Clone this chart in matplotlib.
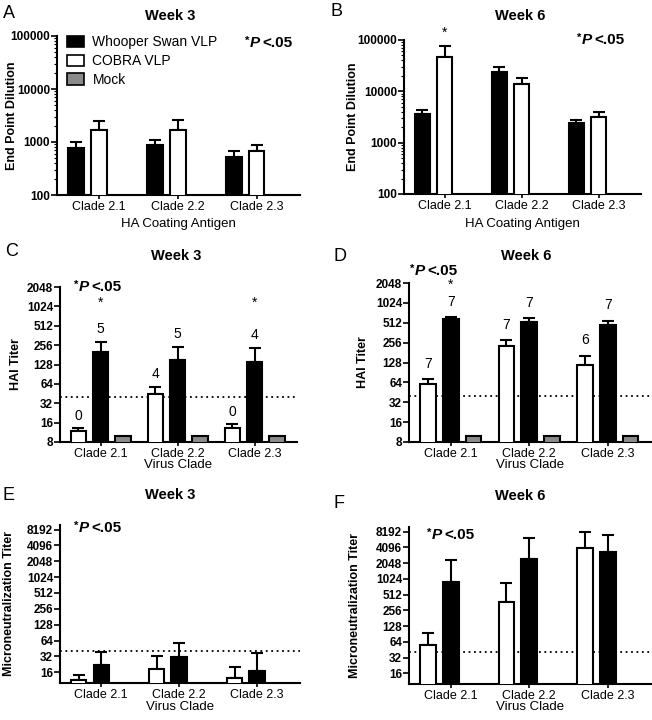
import numpy as np
import matplotlib.pyplot as plt
from matplotlib.patches import Patch
from matplotlib.ticker import FixedLocator, NullFormatter

plt.rcParams['font.family'] = ['Liberation Sans', 'DejaVu Sans']

W, H = 652, 720

clades = ['Clade 2.1', 'Clade 2.2', 'Clade 2.3']

# ELISA end point dilution (A, B): black = Whooper Swan, white = COBRA
elisa_w3_swan = [780, 880, 515]
elisa_w3_swan_err = [980, 1090, 690]
elisa_w3_cobra = [1650, 1700, 690]
elisa_w3_cobra_err = [2450, 2550, 860]
elisa_w6_swan = [3650, 24000, 2420]
elisa_w6_swan_err = [4350, 30000, 2800]
elisa_w6_cobra = [47000, 13800, 3150]
elisa_w6_cobra_err = [75000, 18500, 4000]

# HAI titer (C, D): white, black, mock
hai_w3_white = [11.7, 45, 13]
hai_w3_white_err = [13, 58, 15]
hai_w3_black = [200, 150, 140]
hai_w3_black_err = [288, 240, 232]
hai_w6_white = [61, 230, 119]
hai_w6_white_err = [72, 278, 163]
hai_w6_black = [592, 520, 478]
hai_w6_black_err = [626, 605, 550]
hai_mock = [10, 10, 10]
hai_w3_n_white = ['0', '4', '0']
hai_w3_n_black = ['5', '5', '4']
hai_w6_n_white = ['7', '7', '6']
hai_w6_n_black = ['7', '7', '7']

# Microneutralization titer (E, F)
mn_w3_white = [11.4, 18.5, 12.3]
mn_w3_white_err = [14.2, 33, 20]
mn_w3_black = [22.4, 30.7, 16.7]
mn_w3_black_err = [39.4, 56.5, 37]
mn_w6_white = [55, 366, 3930]
mn_w6_white_err = [94, 838, 8140]
mn_w6_black = [904, 2430, 3260]
mn_w6_black_err = [2330, 6270, 6940]

cutoff = 40
log10_ticks = [100, 1000, 10000, 100000]
hai_ticks = [8, 16, 32, 64, 128, 256, 512, 1024, 2048]
mn_ticks = [16, 32, 64, 128, 256, 512, 1024, 2048, 4096, 8192]

fig = plt.figure(figsize=(W / 100, H / 100), dpi=100)


def make_ax(l, r, t, b):
    return fig.add_axes([l / W, 1 - b / H, (r - l) / W, (b - t) / H])


def style(ax, l, r, ylabel, xlabel, ylabel_x, xlabel_y, b, t):
    for s in ['top', 'right']:
        ax.spines[s].set_visible(False)
    for s in ['left', 'bottom']:
        ax.spines[s].set_linewidth(1.5)
    ax.set_xlim(-0.53, 2.55)
    ax.set_xticks(range(3))
    ax.set_xticklabels(clades, fontsize=9)
    ax.tick_params(axis='x', length=3, width=1.2, pad=1.5)
    ax.tick_params(axis='y', which='major', length=4, width=1.2, pad=1)
    for lab in ax.get_yticklabels():
        lab.set_fontweight('bold')
        lab.set_fontsize(8.5)
    ax.set_ylabel(ylabel, fontsize=9, fontweight='bold')
    ax.yaxis.set_label_coords((ylabel_x - l) / (r - l), 0.5)
    ax.set_xlabel(xlabel, fontsize=9.5)
    ax.xaxis.set_label_coords(0.5, -(xlabel_y - b) / (b - t))


def bars(ax, series):
    offsets = [-0.29, 0.0, 0.29]
    xs = []
    for off, (vals, err, col) in zip(offsets, series):
        x = np.arange(3) + off
        xs.append(x)
        if vals is None:
            continue
        ax.bar(x, vals, width=0.2, color=col, edgecolor='black', linewidth=1.5, zorder=3)
        if err is not None:
            up = np.array(err) - np.array(vals)
            ax.errorbar(x, vals, yerr=[np.zeros(3), up], fmt='none', ecolor='black',
                        elinewidth=1.5, capsize=4, capthick=1.5, zorder=2)
    return xs


def log_axis(ax, base, ticks, ylim, minor=False):
    ax.set_yscale('log', base=base)
    ax.set_ylim(*ylim)
    ax.set_yticks(ticks)
    ax.set_yticklabels([str(t) for t in ticks])
    if not minor:
        ax.yaxis.set_minor_locator(FixedLocator([]))
    else:
        ax.tick_params(axis='y', which='minor', length=2, width=0.8)
        ax.yaxis.set_minor_formatter(NullFormatter())


def pval(x, y):
    # "*P<.05" built from three pieces: small star, bold italic P, bold "<.05"
    fig.text(x / W, 1 - y / H, '*', fontsize=8, fontweight='bold', va='top', ha='left')
    fig.text((x + 5) / W, 1 - (y + 7) / H, 'P', fontsize=11, fontweight='bold',
             fontstyle='italic', va='center', ha='left')
    fig.text((x + 17) / W, 1 - (y + 7) / H, '<.05', fontsize=11, fontweight='bold',
             va='center', ha='left')


def panel_text(x, y, letter, title_x, title_y, title):
    fig.text(x / W, 1 - y / H, letter, fontsize=13, va='center', ha='left')
    fig.text(title_x / W, 1 - title_y / H, title, fontsize=10.5, fontweight='bold',
             va='center', ha='center')


def counts(ax, x, tops, labels, off):
    for xi, ti, lab in zip(x, tops, labels):
        ax.annotate(lab, xy=(xi, ti), xytext=(0, off), textcoords='offset points',
                    ha='center', va='bottom', fontsize=10)


# ---- A ----
axA = make_ax(57, 300, 36, 195)
bars(axA, [(elisa_w3_swan, elisa_w3_swan_err, 'black'),
           (elisa_w3_cobra, elisa_w3_cobra_err, 'white'),
           (None, None, '#8a8a8a')])
log_axis(axA, 10, log10_ticks, (100, 100000), minor=True)
style(axA, 57, 300, 'End Point Dilution', 'HA Coating Antigen', 18, 218, 195, 36)
handles = [Patch(facecolor='black', edgecolor='black', linewidth=1.2),
           Patch(facecolor='white', edgecolor='black', linewidth=1.2),
           Patch(facecolor='#8a8a8a', edgecolor='black', linewidth=1.2)]
axA.legend(handles, ['Whooper Swan VLP', 'COBRA VLP', 'Mock'], loc='upper left',
           bbox_to_anchor=(0.02, 1.04), frameon=False, fontsize=10, handlelength=1.2,
           handleheight=0.9, handletextpad=0.6, labelspacing=0.35, borderaxespad=0)
panel_text(3, 13, 'A', 170, 16, 'Week 3')
pval(245, 36)

# ---- B ----
axB = make_ax(404, 641, 40, 194)
xsB = bars(axB, [(elisa_w6_swan, elisa_w6_swan_err, 'black'),
                 (elisa_w6_cobra, elisa_w6_cobra_err, 'white'),
                 (None, None, '#8a8a8a')])
log_axis(axB, 10, log10_ticks, (100, 100000), minor=True)
style(axB, 404, 641, 'End Point Dilution', 'HA Coating Antigen', 359, 218, 194, 40)
axB.annotate('*', xy=(xsB[1][0], elisa_w6_cobra_err[0]), xytext=(0, 5),
             textcoords='offset points', ha='center', va='bottom', fontsize=10,
             annotation_clip=False)
panel_text(331, 12, 'B', 520, 16, 'Week 6')
pval(577, 33)

# ---- C ----
axC = make_ax(60, 297, 287, 442)
axC.axhline(cutoff, color='black', linestyle=(0, (1, 2)), linewidth=1.3, zorder=1)
xsC = bars(axC, [(hai_w3_white, hai_w3_white_err, 'white'),
                 (hai_w3_black, hai_w3_black_err, 'black'),
                 (hai_mock, None, '#8a8a8a')])
log_axis(axC, 2, hai_ticks, (8, 2048))
style(axC, 60, 297, 'HAI Titer', 'Virus Clade', 22, 459, 442, 287)
counts(axC, xsC[0], hai_w3_white_err, hai_w3_n_white, 4)
counts(axC, xsC[1], hai_w3_black_err, hai_w3_n_black, 4)
for i in [0, 2]:
    axC.text(xsC[1][i], 1150, '*', ha='center', va='center', fontsize=10)
panel_text(5, 252, 'C', 176, 256, 'Week 3')
pval(74, 280)

# ---- D ----
axD = make_ax(409, 651, 283, 442)
axD.axhline(cutoff, color='black', linestyle=(0, (1, 2)), linewidth=1.3, zorder=1)
xsD = bars(axD, [(hai_w6_white, hai_w6_white_err, 'white'),
                 (hai_w6_black, hai_w6_black_err, 'black'),
                 (hai_mock, None, '#8a8a8a')])
log_axis(axD, 2, hai_ticks, (8, 2048))
style(axD, 409, 651, 'HAI Titer', 'Virus Clade', 369, 459, 442, 283)
counts(axD, xsD[0], hai_w6_white_err, hai_w6_n_white, 6)
counts(axD, xsD[1], hai_w6_black_err, hai_w6_n_black, 6)
axD.text(xsD[1][0], 1950, '*', ha='center', va='center', fontsize=10, clip_on=False)
panel_text(333, 256, 'D', 526, 256, 'Week 6')
pval(410, 264)

# ---- E ----
axE = make_ax(60, 300, 525, 683)
axE.axhline(cutoff, color='black', linestyle=(0, (1, 2)), linewidth=1.3, zorder=1)
bars(axE, [(mn_w3_white, mn_w3_white_err, 'white'),
           (mn_w3_black, mn_w3_black_err, 'black'),
           (None, None, '#8a8a8a')])
log_axis(axE, 2, mn_ticks, (10, 10000))
style(axE, 60, 300, 'Microneutralization Titer', 'Virus Clade', 15, 701, 683, 525)
panel_text(3, 496, 'E', 170, 495, 'Week 3')
pval(74, 521)

# ---- F ----
axF = make_ax(409, 651, 527, 684)
axF.axhline(cutoff, color='black', linestyle=(0, (1, 2)), linewidth=1.3, zorder=1)
bars(axF, [(mn_w6_white, mn_w6_white_err, 'white'),
           (mn_w6_black, mn_w6_black_err, 'black'),
           (None, None, '#8a8a8a')])
log_axis(axF, 2, mn_ticks, (10, 10000))
style(axF, 409, 651, 'Microneutralization Titer', 'Virus Clade', 361, 701, 684, 527)
panel_text(333, 503, 'F', 520, 496, 'Week 6')
pval(427, 528)

fig.savefig('out.png', dpi=100)
